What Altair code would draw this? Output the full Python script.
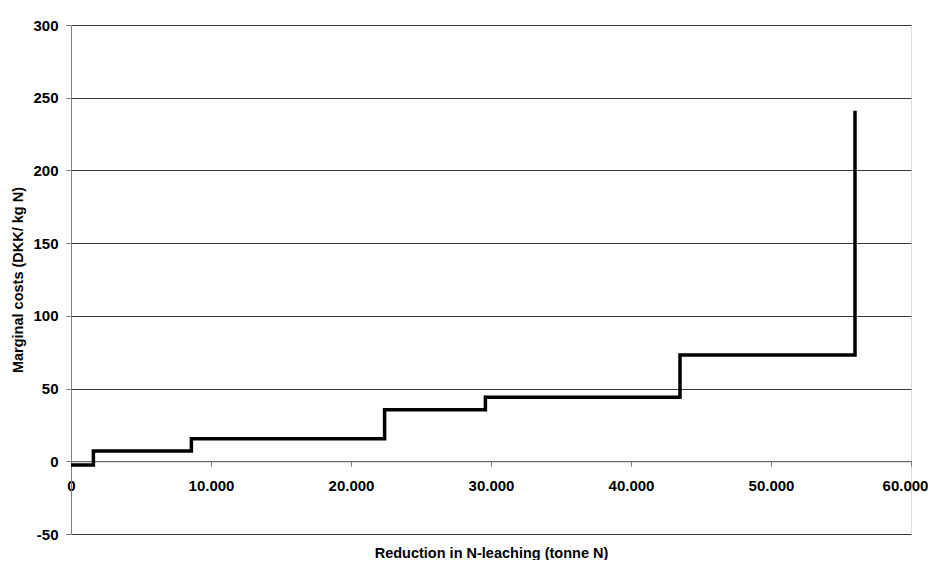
import altair as alt
import pandas as pd

# Step boundaries (tonne N) and marginal costs (DKK/kg N)
reduction = [0, 1600, 8600, 22400, 29600, 43500, 56000]
marginal_cost = [-2.5, 7, 15.5, 35.5, 44, 73, 241]
x_ticks = [0, 10000, 20000, 30000, 40000, 50000, 60000]
y_ticks = [-50, 0, 50, 100, 150, 200, 250, 300]

df = pd.DataFrame({"x": reduction, "y": marginal_cost})

W, H = 840, 509
Y_MIN, Y_MAX = -50, 300
x_axis_offset = -H * (0 - Y_MIN) / (Y_MAX - Y_MIN)

FONT = "Liberation Sans"

chart = alt.Chart(df).mark_line(
    interpolate="step-after", color="black", strokeWidth=3.5, clip=False
).encode(
    x=alt.X(
        "x:Q",
        scale=alt.Scale(domain=[0, 60000], nice=False, zero=False),
        axis=alt.Axis(
            title="Reduction in N-leaching (tonne N)",
            values=x_ticks,
            labelExpr="replace(format(datum.value, ','), ',', '.')",
            labelFlush=False,
            labelOffset={"condition": {"test": "datum.value >= 60000", "value": -6}, "value": 0},
            grid=False,
            offset=x_axis_offset,
            domainColor="#808080",
            tickColor="#808080",
            tickSize=5,
            labelPadding=12,
            labelFont=FONT,
            labelFontSize=15,
            labelFontWeight="bold",
            labelColor="black",
            titleFont=FONT,
            titleFontSize=14.5,
            titleFontWeight="bold",
            titleColor="black",
            titleBaseline="alphabetic",
            titleY=96,
        ),
    ),
    y=alt.Y(
        "y:Q",
        scale=alt.Scale(domain=[Y_MIN, Y_MAX], nice=False, zero=False),
        axis=alt.Axis(
            title="Marginal costs (DKK/ kg N)",
            values=y_ticks,
            labelExpr="'' + datum.value",
            grid=True,
            gridColor="#3a3a3a",
            gridWidth=1,
            domainColor="#808080",
            tickColor="#808080",
            tickSize=5,
            labelPadding=8,
            labelFlush=False,
            labelFont=FONT,
            labelFontSize=15,
            labelFontWeight="bold",
            labelColor="black",
            titleFont=FONT,
            titleFontSize=14.5,
            titleFontWeight="bold",
            titleColor="black",
            titlePadding=7,
        ),
    ),
).properties(
    width=W,
    height=H,
    autosize=alt.AutoSizeParams(type="none"),
    padding={"left": 63, "top": 17, "right": 17, "bottom": 26},
).configure_view(stroke=None).configure(background="white")

chart.save("out.html", embed_options={"renderer": "svg", "actions": False})
